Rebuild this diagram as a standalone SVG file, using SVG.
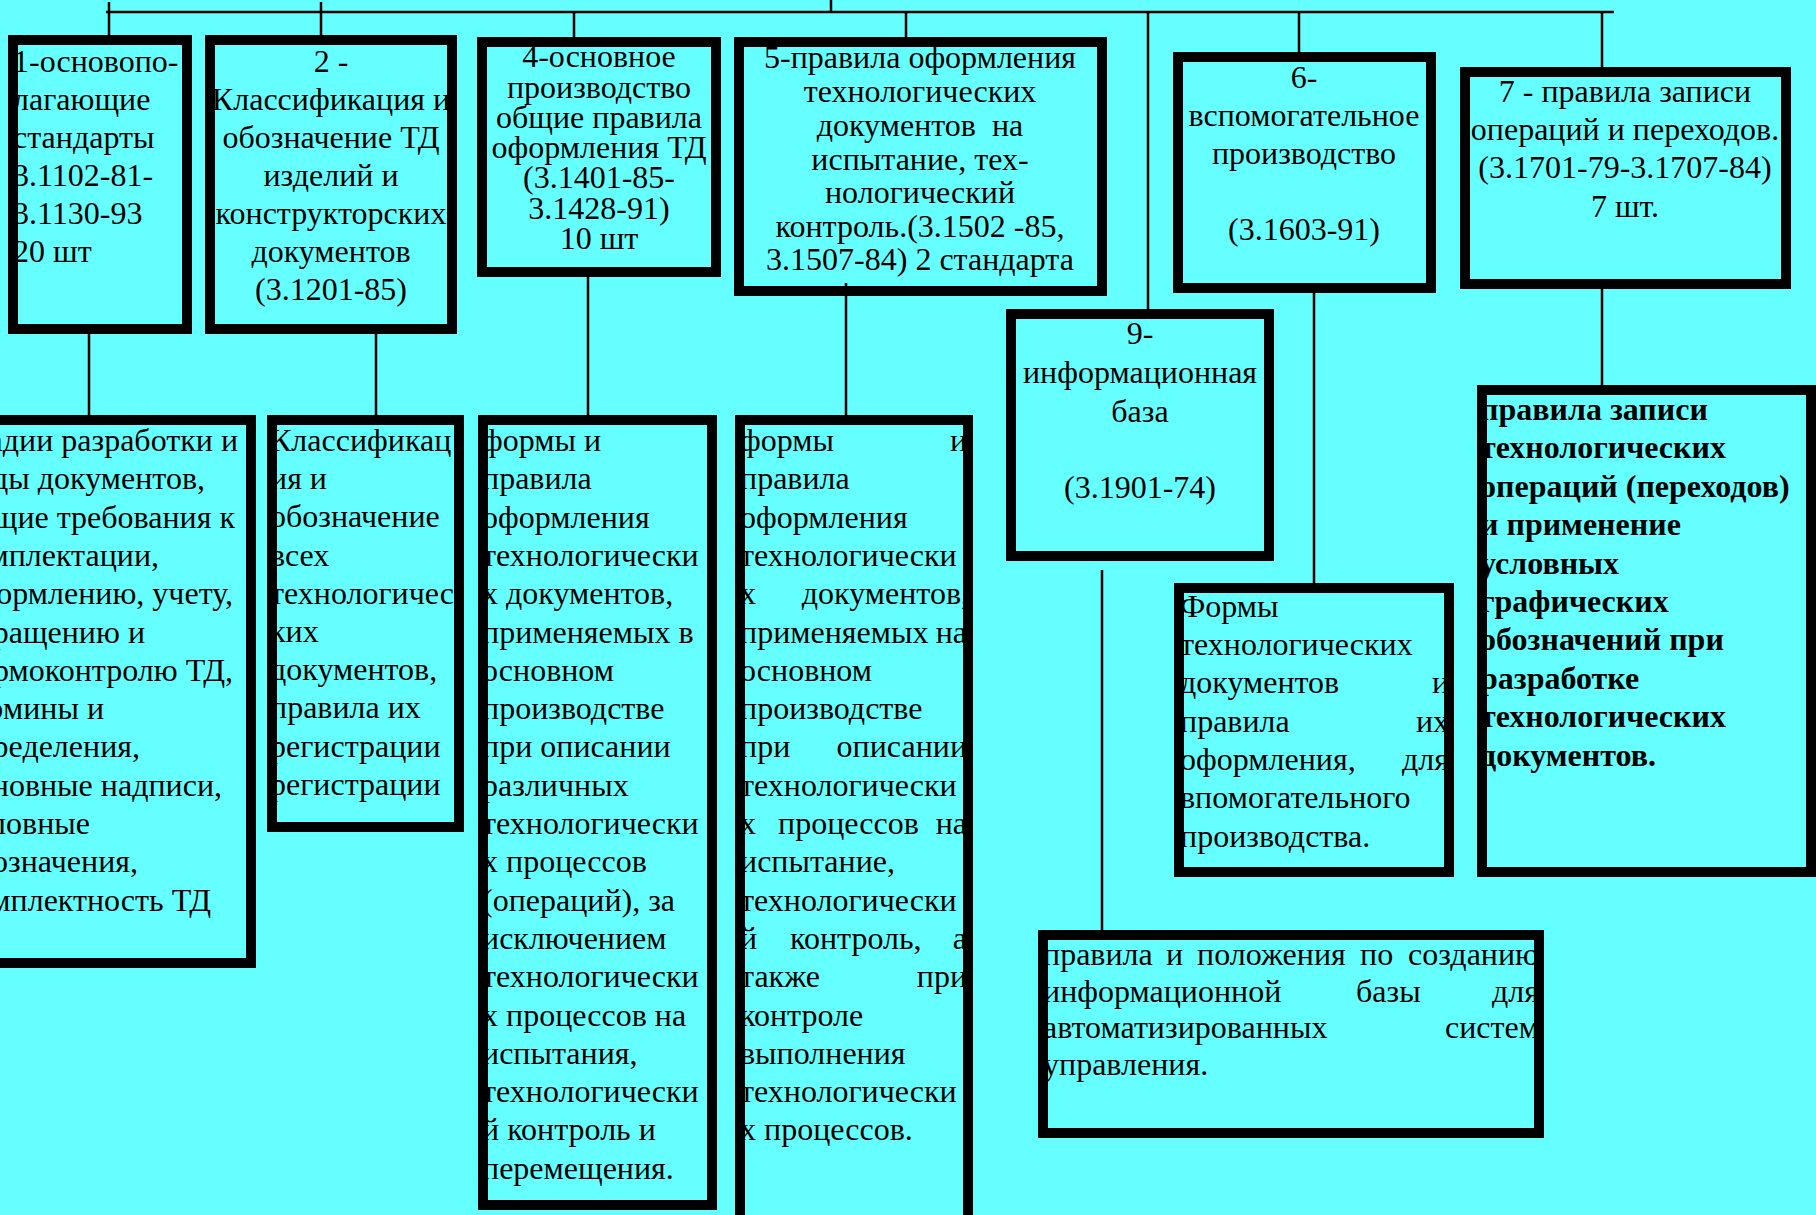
<svg xmlns="http://www.w3.org/2000/svg" width="1816" height="1215" viewBox="0 0 1816 1215">
<style>
text{font-family:"Liberation Serif","Times New Roman",serif;font-size:32px;fill:#000}
.c{text-anchor:middle}
.e{text-anchor:end}
.b{font-weight:bold}
.box{fill:none;stroke:#000;stroke-width:10}
.ln{stroke:#000;stroke-width:2.5;fill:none}
</style>
<rect x="0" y="0" width="1816" height="1215" fill="#66FFFF"/>
<g id="connectors">
<path class="ln" d="M106 12H1614"/>
<path class="ln" d="M109 2V35M321 2V35M574 12V37M831 0V12M906 12V37M1148 12V309M1299 12V52M1602 12V67"/>
<path class="ln" d="M89 334V415M376 334V415M588 277V415M846 283V415M1314 293V583M1602 289V385M1102 570V930"/>
</g>
<g id="n1">
<text x="13" y="72">1-основопо-</text>
<text x="13" y="110">лагающие</text>
<text x="13" y="148">стандарты</text>
<text x="13" y="186">3.1102-81-</text>
<text x="13" y="224">3.1130-93</text>
<text x="13" y="262">20 шт</text>
<rect class="box" x="13" y="40" width="174" height="289"/>
</g>
<g id="n2">
<text class="c" x="331" y="72">2 -</text>
<text class="c" x="331" y="110">Классификация и</text>
<text class="c" x="331" y="148">обозначение ТД</text>
<text class="c" x="331" y="186">изделий и</text>
<text class="c" x="331" y="224">конструкторских</text>
<text class="c" x="331" y="262">документов</text>
<text class="c" x="331" y="300">(3.1201-85)</text>
<rect class="box" x="210" y="40" width="242" height="289"/>
</g>
<g id="n4">
<text class="c" x="599" y="67">4-основное</text>
<text class="c" x="599" y="97.5">производство</text>
<text class="c" x="599" y="128">общие правила</text>
<text class="c" x="599" y="158">оформления ТД</text>
<text class="c" x="599" y="188">(3.1401-85-</text>
<text class="c" x="599" y="218.5">3.1428-91)</text>
<text class="c" x="599" y="249">10 шт</text>
<rect class="box" x="482" y="42" width="234" height="230"/>
</g>
<g id="n5">
<text class="c" x="920" y="68">5-правила оформления</text>
<text class="c" x="920" y="102">технологических</text>
<text class="c" x="920" y="136" style="white-space:pre">документов  на</text>
<text class="c" x="920" y="170">испытание, тех-</text>
<text class="c" x="920" y="203">нологический</text>
<text class="c" x="920" y="237">контроль.(3.1502 -85,</text>
<text class="c" x="920" y="270">3.1507-84) 2 стандарта</text>
<rect class="box" x="739" y="42" width="363" height="249"/>
</g>
<g id="n6">
<text class="c" x="1304" y="88">6-</text>
<text class="c" x="1304" y="126">вспомогательное</text>
<text class="c" x="1304" y="164">производство</text>
<text class="c" x="1304" y="240">(3.1603-91)</text>
<rect class="box" x="1178" y="57" width="253" height="231"/>
</g>
<g id="n7">
<text class="c" x="1625" y="102">7 - правила записи</text>
<text class="c" x="1625" y="140">операций и переходов.</text>
<text class="c" x="1625" y="178">(3.1701-79-3.1707-84)</text>
<text class="c" x="1625" y="217">7 шт.</text>
<rect class="box" x="1465" y="72" width="321" height="212"/>
</g>
<g id="n9">
<text class="c" x="1140" y="344">9-</text>
<text class="c" x="1140" y="383">информационная</text>
<text class="c" x="1140" y="422">база</text>
<text class="c" x="1140" y="498">(3.1901-74)</text>
<rect class="box" x="1011" y="314" width="258" height="242"/>
</g>
<g id="n1a">
<text class="e" x="238" y="451">адии разработки и</text>
<text class="e" x="205" y="489.3">ды документов,</text>
<text class="e" x="235" y="527.6">щие требования к</text>
<text class="e" x="159" y="565.9">мплектации,</text>
<text class="e" x="233" y="604.2">ормлению, учету,</text>
<text class="e" x="145" y="642.5">ращению и</text>
<text class="e" x="233" y="680.8">рмоконтролю ТД,</text>
<text class="e" x="104" y="719.1">рмины и</text>
<text class="e" x="140" y="757.4">ределения,</text>
<text class="e" x="222" y="795.7">новные надписи,</text>
<text class="e" x="90" y="834">ловные</text>
<text class="e" x="138" y="872.3">означения,</text>
<text class="e" x="211" y="910.6">мплектность ТД</text>
<rect class="box" x="-20" y="420" width="271" height="543"/>
</g>
<g id="n2a">
<text x="270" y="451">Классификац</text>
<text x="270" y="489.2">ия и</text>
<text x="270" y="527.4">обозначение</text>
<text x="270" y="565.6">всех</text>
<text x="270" y="603.8">технологичес</text>
<text x="270" y="642">ких</text>
<text x="270" y="680.2">документов,</text>
<text x="270" y="718.4">правила их</text>
<text x="270" y="756.6">регистрации</text>
<text x="270" y="794.8">регистрации</text>
<rect class="box" x="272" y="420" width="187" height="407"/>
</g>
<g id="n4a">
<text x="482" y="451">формы и</text>
<text x="482" y="489.3">правила</text>
<text x="482" y="527.6">оформления</text>
<text x="482" y="565.9">технологически</text>
<text x="482" y="604.2">х документов,</text>
<text x="482" y="642.5">применяемых в</text>
<text x="482" y="680.8">основном</text>
<text x="482" y="719.1">производстве</text>
<text x="482" y="757.4">при описании</text>
<text x="482" y="795.7">различных</text>
<text x="482" y="834">технологически</text>
<text x="482" y="872.3">х процессов</text>
<text x="482" y="910.6">(операций), за</text>
<text x="482" y="948.9">исключением</text>
<text x="482" y="987.2">технологически</text>
<text x="482" y="1025.5">х процессов на</text>
<text x="482" y="1063.8">испытания,</text>
<text x="482" y="1102.1">технологически</text>
<text x="482" y="1140.4">й контроль и</text>
<text x="482" y="1178.7">перемещения.</text>
<rect class="box" x="483" y="420" width="229" height="785"/>
</g>
<g id="n5a">
<text y="451"><tspan x="740">формы</tspan><tspan class="e" x="967">и</tspan></text>
<text x="740" y="489.3">правила</text>
<text x="740" y="527.6">оформления</text>
<text x="740" y="565.9">технологически</text>
<text y="604.2"><tspan x="740">х</tspan><tspan class="e" x="969">документов,</tspan></text>
<text y="642.5"><tspan x="740">применяемых</tspan><tspan class="e" x="967">на</tspan></text>
<text x="740" y="680.8">основном</text>
<text x="740" y="719.1">производстве</text>
<text y="757.4"><tspan x="740">при</tspan><tspan class="e" x="967">описании</tspan></text>
<text x="740" y="795.7">технологически</text>
<text y="834"><tspan x="740">х</tspan><tspan x="778">процессов</tspan><tspan class="e" x="967">на</tspan></text>
<text x="740" y="872.3">испытание,</text>
<text x="740" y="910.6">технологически</text>
<text y="948.9"><tspan x="740">й</tspan><tspan x="790">контроль,</tspan><tspan class="e" x="967">а</tspan></text>
<text y="987.2"><tspan x="740">также</tspan><tspan class="e" x="967">при</tspan></text>
<text x="740" y="1025.5">контроле</text>
<text x="740" y="1063.8">выполнения</text>
<text x="740" y="1102.1">технологически</text>
<text x="740" y="1140.4">х процессов.</text>
<rect class="box" x="740" y="420" width="228" height="820"/>
</g>
<g id="n6a">
<text x="1180" y="617">Формы</text>
<text x="1180" y="655">технологических</text>
<text y="693"><tspan x="1180">документов</tspan><tspan class="e" x="1449">и</tspan></text>
<text y="731.5"><tspan x="1180">правила</tspan><tspan class="e" x="1449">их</tspan></text>
<text y="770"><tspan x="1180">оформления,</tspan><tspan class="e" x="1449">для</tspan></text>
<text x="1180" y="808">впомогательного</text>
<text x="1180" y="847">производства.</text>
<rect class="box" x="1179" y="588" width="270" height="284"/>
</g>
<g id="n7a">
<text class="b" x="1480" y="420">правила записи</text>
<text class="b" x="1480" y="458.4">технологических</text>
<text class="b" x="1480" y="496.8">операций (переходов)</text>
<text class="b" x="1480" y="535.2">и применение</text>
<text class="b" x="1480" y="573.6">условных</text>
<text class="b" x="1480" y="612">графических</text>
<text class="b" x="1480" y="650.4">обозначений при</text>
<text class="b" x="1480" y="688.8">разработке</text>
<text class="b" x="1480" y="727.2">технологических</text>
<text class="b" x="1480" y="765.6">документов.</text>
<rect class="box" x="1482" y="390" width="329" height="482"/>
</g>
<g id="n9a">
<text y="965"><tspan x="1043">правила</tspan><tspan x="1166">и</tspan><tspan x="1197">положения</tspan><tspan x="1360">по</tspan><tspan class="e" x="1539">созданию</tspan></text>
<text y="1002"><tspan x="1043">информационной</tspan><tspan x="1356">базы</tspan><tspan class="e" x="1539">для</tspan></text>
<text y="1038"><tspan x="1043">автоматизированных</tspan><tspan class="e" x="1539">систем</tspan></text>
<text x="1043" y="1075">управления.</text>
<rect class="box" x="1043" y="935" width="496" height="198"/>
</g>
</svg>
